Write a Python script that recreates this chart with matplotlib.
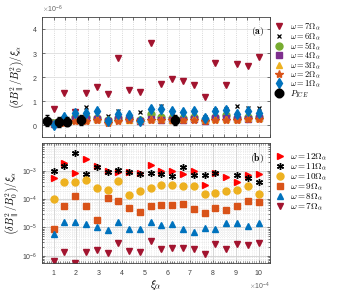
import numpy as np
import matplotlib
matplotlib.use("Agg")
import matplotlib.pyplot as plt
from matplotlib.ticker import MultipleLocator, LogLocator, NullFormatter

plt.rcParams['font.family'] = ['Liberation Sans', 'DejaVu Sans']
plt.rcParams['mathtext.fontset'] = 'cm'

## data (xi in units of 1e-4, panel (a) values in units of 1e-6)
xi = np.array([1.00, 1.47, 1.95, 2.42, 2.89, 3.37, 3.84, 4.32, 4.79, 5.26,
               5.74, 6.21, 6.68, 7.16, 7.63, 8.11, 8.58, 9.05, 9.53, 10.00])

w7 = [0.67, 1.33, 0.54, 1.33, 1.58, 1.29, 2.79, 1.46, 1.38, 3.42,
      1.70, 1.90, 1.83, 1.67, 1.17, 2.58, 1.67, 2.54, 2.46, 2.83]
w6 = [0.15, 0.30, 0.45, 0.75, 0.60, 0.37, 0.60, 0.40, 0.54, 0.60,
      0.80, 0.55, 0.50, 0.55, 0.35, 0.62, 0.65, 0.78, 0.72, 0.72]
w5 = [0.10, 0.25, 0.35, 0.35, 0.30, 0.20, 0.30, 0.30, 0.20, 0.45,
      0.35, 0.30, 0.30, 0.35, 0.20, 0.35, 0.40, 0.30, 0.35, 0.35]
w4 = [0.05, 0.20, 0.25, 0.25, 0.25, 0.15, 0.25, 0.25, 0.15, 0.25,
      0.20, 0.20, 0.20, 0.25, 0.15, 0.30, 0.30, 0.25, 0.25, 0.30]
w3 = [0.10, 0.15, 0.20, 0.20, 0.25, 0.15, 0.25, 0.20, 0.20, 0.25,
      0.25, 0.20, 0.25, 0.30, 0.20, 0.25, 0.25, 0.25, 0.30, 0.30]
w2 = [0.05, 0.10, 0.15, 0.15, 0.20, 0.10, 0.15, 0.20, 0.15, 0.20,
      0.20, 0.20, 0.20, 0.20, 0.15, 0.20, 0.20, 0.20, 0.25, 0.25]
w1 = [0.00, 0.33, 0.50, 0.50, 0.58, 0.17, 0.45, 0.42, 0.17, 0.67,
      0.68, 0.60, 0.56, 0.60, 0.30, 0.58, 0.64, 0.48, 0.60, 0.50]

ice_xi = [0.72, 1.26, 1.60, 2.19, 6.33]
ice_val = [0.18, 0.14, 0.14, 0.21, 0.21]
ice_yerr = [0.22, 0.20, 0.18, 0.20, 0.22]
ice_xerr = [0.12, 0.10, 0.10, 0.12, 0.10]

w12 = [5.5e-4, 1.9e-3, 8.3e-4, 2.5e-3, 1.5e-3, 1.0e-3, 9.0e-4, 9.0e-4, 8.0e-4, 1.6e-3,
       1.0e-3, 9.7e-4, 7.8e-4, 1.0e-3, 3.2e-4, 8.5e-4, 6.2e-4, 3.9e-4, 6.8e-4, 7.8e-4]
w11 = [1.0e-3, 1.5e-3, 4.1e-3, 7.4e-4, 1.35e-3, 9.0e-4, 1.1e-3, 9.0e-4, 7.4e-4, 8.3e-4,
       7.8e-4, 6.5e-4, 1.4e-3, 7.2e-4, 7.2e-4, 8.3e-4, 2.0e-4, 7.2e-4, 5.6e-4, 4.1e-4]
w10 = [1.0e-4, 4.1e-4, 4.1e-4, 4.8e-4, 2.4e-4, 2.1e-4, 4.3e-4, 1.4e-4, 1.9e-4, 2.5e-4,
       3.2e-4, 3.2e-4, 2.8e-4, 2.8e-4, 1.5e-4, 1.6e-4, 1.9e-4, 2.1e-4, 2.8e-4, 1.5e-4]
w9 = [8.5e-6, 5.5e-5, 1.25e-4, 5.5e-5, 1.9e-5, 1.05e-4, 8.3e-5, 4.8e-5, 3.6e-5, 5.8e-5,
      6.0e-5, 6.0e-5, 6.6e-5, 4.3e-5, 3.2e-5, 5.0e-5, 4.0e-5, 5.8e-5, 8.7e-5, 8.0e-5]
w8 = [6.0e-6, 1.55e-5, 1.55e-5, 1.3e-5, 1.05e-5, 8.0e-6, 1.55e-5, 8.9e-6, 8.9e-6, 1.55e-5,
      1.2e-5, 1.3e-5, 8.5e-6, 7.0e-6, 9.3e-6, 8.5e-6, 1.45e-5, 1.4e-5, 1.1e-5, 1.45e-5]

xs = xi * 1e-4

fig = plt.figure(figsize=(3.37, 2.98), dpi=100)
ax1 = fig.add_axes([0.125, 0.540, 0.676, 0.403])
ax2 = fig.add_axes([0.125, 0.117, 0.676, 0.403])

ms = 5
## panel (a)
ax1.plot(xs, np.array(w7) * 1e-6, 'v', color='#A2142F', ms=ms, label=r'$\omega = 7\Omega_\alpha$')
ax1.plot(xs, np.array(w6) * 1e-6, 'x', color='k', ms=3.5, mew=0.9, label=r'$\omega = 6\Omega_\alpha$')
ax1.plot(xs, np.array(w5) * 1e-6, 'o', color='#77AC30', ms=ms, label=r'$\omega = 5\Omega_\alpha$')
ax1.plot(xs, np.array(w4) * 1e-6, 's', color='#7E2F8E', ms=ms - 0.5, label=r'$\omega = 4\Omega_\alpha$')
ax1.plot(xs, np.array(w3) * 1e-6, '^', color='#EDB120', ms=ms, label=r'$\omega = 3\Omega_\alpha$')
ax1.plot(xs, np.array(w2) * 1e-6, '*', color='#D95319', ms=ms + 1, label=r'$\omega = 2\Omega_\alpha$')
ax1.plot(xs, np.array(w1) * 1e-6, 'd', color='#0072BD', ms=ms + 0.5, label=r'$\omega = 1\Omega_\alpha$')
ax1.errorbar(np.array(ice_xi) * 1e-4, np.array(ice_val) * 1e-6,
             yerr=np.array(ice_yerr) * 1e-6, xerr=np.array(ice_xerr) * 1e-4,
             fmt='o', color='k', ms=ms + 1, elinewidth=0.9, capsize=1.5, label=r'$P_{ICE}$')

ax1.set_xlim(0.5e-4, 10.5e-4)
ax1.set_ylim(-0.5e-6, 4.5e-6)
ax1.set_yticks(np.arange(0, 5) * 1e-6)
ax1.xaxis.set_major_locator(MultipleLocator(0.5e-4))
ax1.xaxis.set_major_formatter(NullFormatter())
ax1.ticklabel_format(axis='y', style='sci', scilimits=(-6, -6), useMathText=True)
ax1.grid(axis='y', color='#dddddd', lw=0.6, ls='-')
ax1.grid(axis='x', color='#cccccc', lw=0.6, ls=':')
ax1.set_axisbelow(True)
ax1.text(0.975, 0.93, r'$\mathbf{(a)}$', transform=ax1.transAxes, ha='right', va='top', fontsize=7)
ax1.set_ylabel(r'$\left(\delta B_\parallel^2/B_0^2\right)/\xi_\alpha$', fontsize=7.5, labelpad=4)
ax1.legend(loc='upper left', bbox_to_anchor=(0.995, 1.01), frameon=False, fontsize=6,
           handlelength=1.0, handletextpad=0.8, labelspacing=-0.15, borderaxespad=0.3)

## panel (b)
ax2.plot(xs, w12, '>', color='#FF0000', ms=ms, label=r'$\omega = 12\Omega_\alpha$')
ax2.plot(xs, w11, marker=(6, 2, 0), ls='none', color='k', ms=ms, mew=1.0, label=r'$\omega = 11\Omega_\alpha$')
ax2.plot(xs, w10, 'o', color='#EDB120', ms=ms, label=r'$\omega = 10\Omega_\alpha$')
ax2.plot(xs, w9, 's', color='#D95319', ms=ms - 0.5, label=r'$\omega = 9\Omega_\alpha$')
ax2.plot(xs, w8, '^', color='#0072BD', ms=ms, label=r'$\omega = 8\Omega_\alpha$')
ax2.plot(xs, np.array(w7) * 1e-6, 'v', color='#A2142F', ms=ms, label=r'$\omega = 7\Omega_\alpha$')

ax2.set_yscale('log')
ax2.set_xlim(0.5e-4, 10.5e-4)
ax2.set_ylim(5.5e-7, 9.5e-3)
ax2.set_yticks([1e-6, 1e-5, 1e-4, 1e-3])
ax2.yaxis.set_minor_locator(LogLocator(base=10, subs=np.arange(2, 10)))
ax2.yaxis.set_minor_formatter(NullFormatter())
ax2.set_xticks(np.arange(1, 11) * 1e-4)
ax2.xaxis.set_minor_locator(MultipleLocator(0.1e-4))
ax2.ticklabel_format(axis='x', style='sci', scilimits=(-4, -4), useMathText=True)
ax2.grid(which='major', color='#d0d0d0', lw=0.6, ls='-')
ax2.grid(which='minor', color='#dddddd', lw=0.5, ls=':')
ax2.set_axisbelow(True)
ax2.text(0.975, 0.93, r'$\mathbf{(b)}$', transform=ax2.transAxes, ha='right', va='top', fontsize=7)
ax2.set_ylabel(r'$\left(\delta B_\parallel^2/B_0^2\right)/\xi_\alpha$', fontsize=7.5, labelpad=1)
ax2.set_xlabel(r'$\xi_\alpha$', fontsize=8, labelpad=1)
ax2.legend(loc='upper left', bbox_to_anchor=(0.995, 0.985), frameon=False, fontsize=6.5,
           handlelength=1.0, handletextpad=0.7, labelspacing=-0.08, borderaxespad=0.3)

for ax in (ax1, ax2):
    ax.tick_params(which='both', direction='in', top=True, right=True, labelsize=5,
                   colors='#404040', width=0.5)
    ax.tick_params(which='major', length=2.5)
    ax.tick_params(which='minor', length=1.2)
    for s in ax.spines.values():
        s.set_color('#404040')
        s.set_linewidth(0.6)
    ax.yaxis.get_offset_text().set_fontsize(5)
    ax.xaxis.get_offset_text().set_fontsize(5)
    ax.yaxis.get_offset_text().set_color('#606060')
    ax.xaxis.get_offset_text().set_color('#606060')

fig.savefig('out.png', dpi=100)
